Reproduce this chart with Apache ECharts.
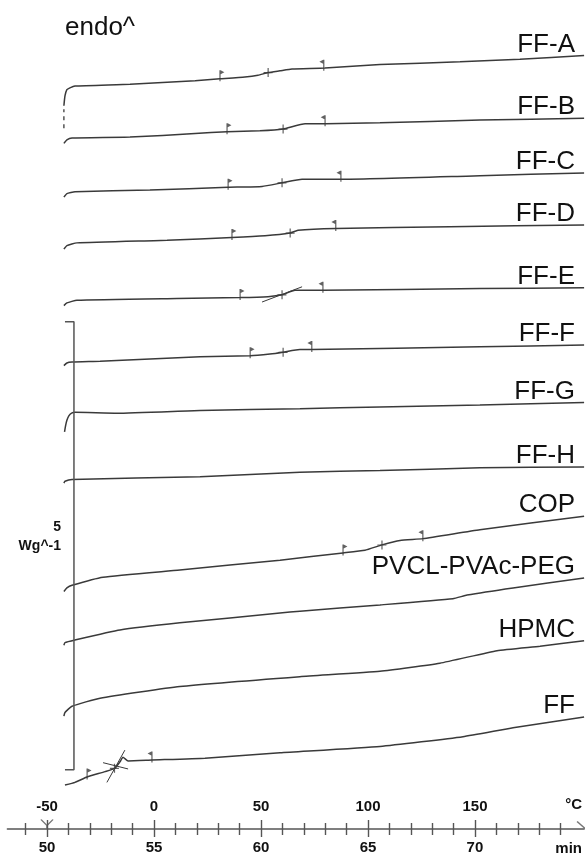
<!DOCTYPE html>
<html>
<head>
<meta charset="utf-8">
<script src="https://cdn.jsdelivr.net/npm/echarts@6/dist/echarts.min.js"></script>
<style>
  html, body { margin: 0; padding: 0; background: #fff; }
  #chart { width: 585px; height: 858px; }
</style>
</head>
<body>
<div id="chart"></div>
<script>
// DSC thermograms: temperature (°C) vs. heat flow (W/g), curves stacked with offsets.
const ffA      = [[-42.1,8.07],[-41.6,8.18],[-40.7,8.25],[-39.3,8.27],[-36.9,8.29],[-11.2,8.31],[19.2,8.35],[30.8,8.37],[42.5,8.39],[48.6,8.41],[53.3,8.44],[58.9,8.46],[64.5,8.48],[79.9,8.49],[105.6,8.53],[143,8.56],[171,8.59],[201,8.63]];
const ffAStart = [[-42.1,7.82],[-42.1,8.03]];
const ffB      = [[-42.1,7.65],[-40.7,7.69],[-38.3,7.71],[-11.2,7.72],[19.2,7.76],[34.1,7.78],[49.5,7.79],[60.3,7.81],[70.6,7.87],[80.4,7.87],[105.6,7.88],[152.3,7.91],[201,7.93]];
const ffC      = [[-42.1,7.05],[-40.7,7.09],[-36.9,7.11],[-1.9,7.13],[34.6,7.16],[50.5,7.17],[59.8,7.21],[69.2,7.25],[87.4,7.25],[152.3,7.29],[201,7.32]];
const ffD      = [[-42.1,6.47],[-40.7,6.51],[-36,6.54],[6.1,6.57],[36.4,6.60],[51.9,6.62],[63.6,6.65],[67.3,6.68],[85,6.70],[138.3,6.72],[201,6.74]];
const ffE      = [[-42.1,5.84],[-40.7,5.87],[-36,5.90],[10.7,5.92],[40.2,5.93],[53.3,5.94],[59.8,5.96],[65.9,6.01],[79,6.01],[152.3,6.03],[201,6.04]];
const ffETangent = [[50.5,5.88],[69.2,6.05]];
const ffF      = [[-42.1,5.17],[-40.7,5.20],[-38.3,5.21],[-25.2,5.22],[21.5,5.27],[44.9,5.28],[54.2,5.30],[60.3,5.32],[68.2,5.35],[73.8,5.35],[152.3,5.38],[201,5.40]];
const ffG      = [[-41.8,4.43],[-41.3,4.50],[-40.7,4.56],[-39.8,4.61],[-38.5,4.64],[-36.9,4.65],[-17.3,4.64],[21.5,4.67],[68.2,4.69],[105.6,4.71],[152.3,4.73],[201,4.76]];
const ffH      = [[-42.1,3.86],[-41.6,3.88],[-38.3,3.90],[21.5,3.93],[68.2,3.98],[105.6,4.00],[152.3,4.03],[201,4.04]];
const cop      = [[-42.1,2.65],[-40.7,2.69],[-38.3,2.72],[-23.8,2.81],[12.1,2.89],[58.9,3.00],[88.3,3.08],[98.6,3.11],[106.5,3.17],[115,3.22],[125.7,3.24],[152.3,3.34],[201,3.49]];
const pvcl     = [[-42.1,2.05],[-41.6,2.08],[-36.9,2.11],[-15.9,2.22],[12.1,2.30],[58.9,2.41],[68.2,2.43],[105.6,2.50],[139.7,2.57],[146.3,2.61],[167.8,2.69],[201,2.80]];
const hpmc     = [[-42.1,1.26],[-41.6,1.30],[-38.3,1.37],[-25.2,1.46],[12.1,1.59],[68.2,1.70],[105.6,1.76],[133.6,1.85],[160.3,1.99],[180.4,2.04],[201,2.10]];
const ff       = [[-41.6,0.49],[-36.9,0.52],[-31.3,0.58],[-22.9,0.64],[-18.2,0.68],[-15.9,0.75],[-14.5,0.80],[-12.1,0.76],[-0.9,0.77],[23.8,0.79],[58.9,0.85],[105.6,0.92],[144.4,1.03],[167.8,1.13],[201,1.25]];
const ffTangentSteep   = [[-22,0.52],[-13.6,0.88]];
const ffTangentShallow = [[-23.8,0.74],[-12.1,0.67]];

// Glass-transition evaluation temperatures: onset, midpoint, endset (°C)
const tgFFA = [30.8, 53.3, 79.4];
const tgFFB = [34.1, 60.3, 80.0];
const tgFFC = [34.6, 59.8, 87.4];
const tgFFD = [36.4, 63.6, 85.0];
const tgFFE = [40.2, 59.8, 79.0];
const tgFFF = [44.9, 60.3, 73.8];
const tgCOP = [88.3, 106.5, 125.7];
const tgFF  = [-31.3, -18.5, -0.9];

// Heat-flow scale bar: 5 W/g
const scaleBarTop = 5.66;
const scaleBarSpan = 5;

// Axis tick labels
const tempTicks = [-50, 0, 50, 100, 150];
const tempMinor = [-60,-40,-30,-20,-10,10,20,30,40,60,70,80,90,110,120,130,140,160,170,180,190];
const timeTicks = [50, 55, 60, 65, 70];
const timeMinor = [49,51,52,53,54,56,57,58,59,61,62,63,64,66,67,68,69,71,72,73,74];

const sampleNames = ['FF-A','FF-B','FF-C','FF-D','FF-E','FF-F','FF-G','FF-H','COP','PVCL-PVAc-PEG','HPMC','FF'];
const sampleCurves = [ffA, ffB, ffC, ffD, ffE, ffF, ffG, ffH, cop, pvcl, hpmc, ff];
const transitions = [[ffA,tgFFA],[ffB,tgFFB],[ffC,tgFFC],[ffD,tgFFD],[ffE,tgFFE],[ffF,tgFFF],[cop,tgCOP],[ff,tgFF]];

const T_MIN = -68.5, T_MAX = 201;
const toMin = t => 55 + t / 10;   // 10 °C/min heating from -50 °C at 50 min

const FONT = 'Liberation Sans, Arial, Helvetica, sans-serif';
const INK = '#3a3a3a';
const AXIS = '#555';

function valueAt(curve, t) {
  for (let i = 1; i < curve.length; i++) {
    const [t0, v0] = curve[i - 1], [t1, v1] = curve[i];
    if (t1 > t0 && t >= t0 && t <= t1) return v0 + (v1 - v0) * (t - t0) / (t1 - t0);
  }
  return curve[curve.length - 1][1];
}

const onsetPts = [], midPts = [], endPts = [];
transitions.forEach(([curve, tg]) => {
  onsetPts.push([tg[0], valueAt(curve, tg[0])]);
  midPts.push([tg[1], valueAt(curve, tg[1])]);
  endPts.push([tg[2], valueAt(curve, tg[2])]);
});

const lineBase = {
  type: 'line', showSymbol: false, symbol: 'none', silent: true, animation: false,
  lineStyle: { color: INK, width: 1.5 }, clip: false
};

const series = sampleCurves.map((c, i) => Object.assign({}, lineBase, {
  name: sampleNames[i], data: c, smooth: 0.15
}));
series.push(Object.assign({}, lineBase, { name: 'startFFA', data: ffAStart, lineStyle: { color: INK, width: 1.3, type: [4, 4] } }));
series.push(Object.assign({}, lineBase, { name: 'tanE', data: ffETangent, lineStyle: { color: INK, width: 1 } }));
series.push(Object.assign({}, lineBase, { name: 'tanFF1', data: ffTangentSteep, lineStyle: { color: INK, width: 1 } }));
series.push(Object.assign({}, lineBase, { name: 'tanFF2', data: ffTangentShallow, lineStyle: { color: INK, width: 1 } }));
series.push(Object.assign({}, lineBase, {
  name: 'scaleBar',
  data: [[-41.6, scaleBarTop], [-37.4, scaleBarTop], [-37.4, scaleBarTop - scaleBarSpan], [-41.6, scaleBarTop - scaleBarSpan]],
  lineStyle: { color: AXIS, width: 1.5 }
}));

const markerBase = { type: 'scatter', silent: true, animation: false, clip: false, itemStyle: { color: INK } };
series.push(Object.assign({}, markerBase, {
  name: 'onset', data: onsetPts,
  symbol: 'path://M0,0L1.2,0L1.2,11L0,11ZM1.2,0L5,2L1.2,4Z', symbolSize: [5, 11], symbolOffset: [2, -3]
}));
series.push(Object.assign({}, markerBase, {
  name: 'endset', data: endPts,
  symbol: 'path://M3.8,0L5,0L5,11L3.8,11ZM3.8,0L0,2L3.8,4Z', symbolSize: [5, 11], symbolOffset: [-2, -3]
}));
series.push(Object.assign({}, markerBase, {
  name: 'midpoint', data: midPts,
  symbol: 'path://M0,4L9,4L9,5.2L0,5.2ZM4,0L5.2,0L5.2,9L4,9Z', symbolSize: [9, 9]
}));
// start-of-segment mark at -50 °C and axis end mark
series.push({
  type: 'scatter', silent: true, animation: false, clip: false, name: 'segStart',
  data: [[-50, 0]], symbol: 'path://M0,0L6,6L12,0M6,6L6,9', symbolSize: [12, 9], symbolOffset: [0, -5],
  itemStyle: { color: 'none', borderColor: AXIS, borderWidth: 1.4 }
});
series.push({
  type: 'scatter', silent: true, animation: false, clip: false, name: 'axisEnd',
  data: [[T_MAX, 0]], symbol: 'path://M0,0L8,7', symbolSize: [8, 7], symbolOffset: [-3, -4],
  itemStyle: { color: 'none', borderColor: AXIS, borderWidth: 1.4 }
});

const tickLabelStyle = { color: '#111', fontFamily: FONT, fontWeight: 'bold', fontSize: 15 };

const option = {
  animation: false,
  backgroundColor: '#fff',
  grid: { left: 7.4, right: 0.9, top: 0, bottom: 29, containLabel: false },
  xAxis: [
    { type: 'value', min: T_MIN, max: T_MAX, position: 'bottom',
      axisLine: { show: true, lineStyle: { color: AXIS, width: 1.5 } },
      axisTick: { show: true, inside: true, length: 6, customValues: tempMinor, lineStyle: { color: AXIS, width: 1.4 } },
      axisLabel: { show: false }, splitLine: { show: false } },
    { type: 'value', min: T_MIN, max: T_MAX, position: 'bottom',
      axisLine: { show: false },
      axisTick: { show: true, inside: true, length: 9, customValues: tempTicks, lineStyle: { color: AXIS, width: 1.4 } },
      axisLabel: Object.assign({ show: true, inside: true, margin: 15, customValues: tempTicks }, tickLabelStyle),
      splitLine: { show: false } },
    { type: 'value', min: toMin(T_MIN), max: toMin(T_MAX), position: 'bottom',
      axisLine: { show: false },
      axisTick: { show: true, inside: false, length: 6, customValues: timeMinor, lineStyle: { color: AXIS, width: 1.4 } },
      axisLabel: { show: false }, splitLine: { show: false } },
    { type: 'value', min: toMin(T_MIN), max: toMin(T_MAX), position: 'bottom',
      axisLine: { show: false },
      axisTick: { show: true, inside: false, length: 8, customValues: timeTicks, lineStyle: { color: AXIS, width: 1.4 } },
      axisLabel: Object.assign({ show: true, margin: 11, customValues: timeTicks }, tickLabelStyle),
      splitLine: { show: false } }
  ],
  yAxis: { type: 'value', min: 0, max: 9.25, show: false },
  series: series
};

const chart = echarts.init(document.getElementById('chart'), null, { renderer: 'canvas' });
chart.setOption(option);

// Sample names right-aligned above the end of each curve; unit and axis captions
const graphics = sampleNames.map((name, i) => {
  const c = sampleCurves[i];
  const p = chart.convertToPixel({ seriesIndex: i }, c[c.length - 1]);
  return {
    type: 'text', x: 575, y: p[1] - 11, silent: true,
    style: { text: name, font: '26px ' + FONT, fill: '#111', align: 'right', verticalAlign: 'middle' }
  };
});
graphics.push({ type: 'text', x: 65, y: 28, silent: true,
  style: { text: 'endo^', font: '26px ' + FONT, fill: '#111', align: 'left', verticalAlign: 'middle' } });
graphics.push({ type: 'text', x: 61, y: 527, silent: true,
  style: { text: '5', font: 'bold 14px ' + FONT, fill: '#111', align: 'right', verticalAlign: 'middle' } });
graphics.push({ type: 'text', x: 61, y: 546, silent: true,
  style: { text: 'Wg^-1', font: 'bold 14px ' + FONT, fill: '#111', align: 'right', verticalAlign: 'middle' } });
graphics.push({ type: 'text', x: 582, y: 805, silent: true,
  style: { text: '°C', font: 'bold 15px ' + FONT, fill: '#111', align: 'right', verticalAlign: 'middle' } });
graphics.push({ type: 'text', x: 582, y: 849, silent: true,
  style: { text: 'min', font: 'bold 15px ' + FONT, fill: '#111', align: 'right', verticalAlign: 'middle' } });

chart.setOption({ graphic: graphics });
</script>
</body>
</html>
